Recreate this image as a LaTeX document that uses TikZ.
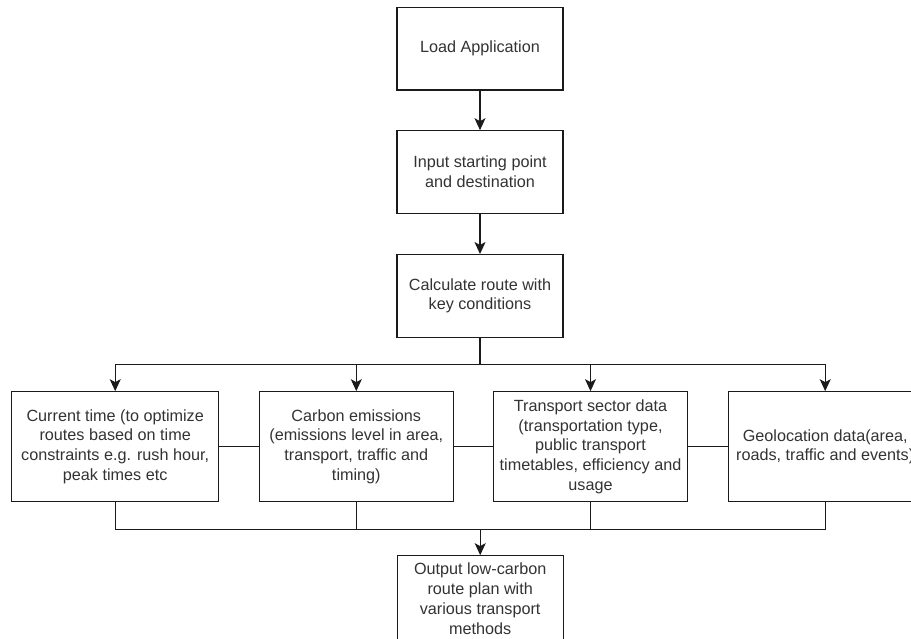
\documentclass[tikz,border=0pt]{standalone}
\usepackage{fontspec}
\setmainfont{Liberation Sans}
\usetikzlibrary{arrows.meta}
\definecolor{txt}{HTML}{333333}
\definecolor{ln}{HTML}{1A1A1A}
\begin{document}
\begin{tikzpicture}[x=1pt,y=-1pt,
  box/.style={draw=ln, line width=1.1pt, fill=white, align=center, text=txt,
    inner sep=0pt, font=\fontsize{16.2}{19.8}\selectfont},
  smallbox/.style={box, minimum width=166pt, minimum height=82.5pt},
  midbox/.style={box, minimum width=194pt, minimum height=110pt},
  wire/.style={draw=ln, line width=1.1pt},
  arr/.style={wire, -{Stealth[length=12pt,width=11pt,inset=3pt]}}]
\useasboundingbox (0,0) rectangle (911,638);
\clip (0,0) rectangle (911,638);
\node[smallbox] (load) at (480,48.7) {Load Application};
\node[smallbox] (input) at (480,172) {Input starting point\\and destination};
\node[smallbox] (calc) at (480,295.8) {Calculate route with\\key conditions};
\node[midbox, minimum width=207pt] (curr) at (115.2,446.7) {Current time (to optimize\\routes based on time\\constraints e.g. rush hour,\\peak times etc};
\node[midbox] (carb) at (356.3,446.7) {Carbon emissions\\(emissions level in area,\\transport, traffic and\\timing)};
\node[midbox] (trans) at (590.5,446.7) {Transport sector data\\(transportation type,\\public transport\\timetables, efficiency and\\usage};
\node[midbox] (geo) at (825.2,446.7) {Geolocation data(area,\\roads, traffic and events)};
\node[smallbox, minimum height=86pt] (out) at (480.2,598.7) {Output low-carbon\\route plan with\\various transport\\methods};
\coordinate (bus1) at (480,364.3);
\coordinate (bus2) at (480.2,529.3);
\draw[arr] (load) -- (input);
\draw[arr] (input) -- (calc);
\draw[wire] (calc.south) -- (bus1);
\draw[arr] (bus1) -| (curr.north);
\draw[arr] (bus1) -| (carb.north);
\draw[arr] (bus1) -| (trans.north);
\draw[arr] (bus1) -| (geo.north);
\draw[wire] (curr.east) -- (carb.west);
\draw[wire] (carb.east) -- (trans.west);
\draw[wire] (trans.east) -- (geo.west);
\draw[wire] (curr.south) |- (bus2);
\draw[wire] (carb.south) |- (bus2);
\draw[wire] (trans.south) |- (bus2);
\draw[wire] (geo.south) |- (bus2);
\draw[arr] (bus2) -- (out.north);
\end{tikzpicture}
\end{document}
